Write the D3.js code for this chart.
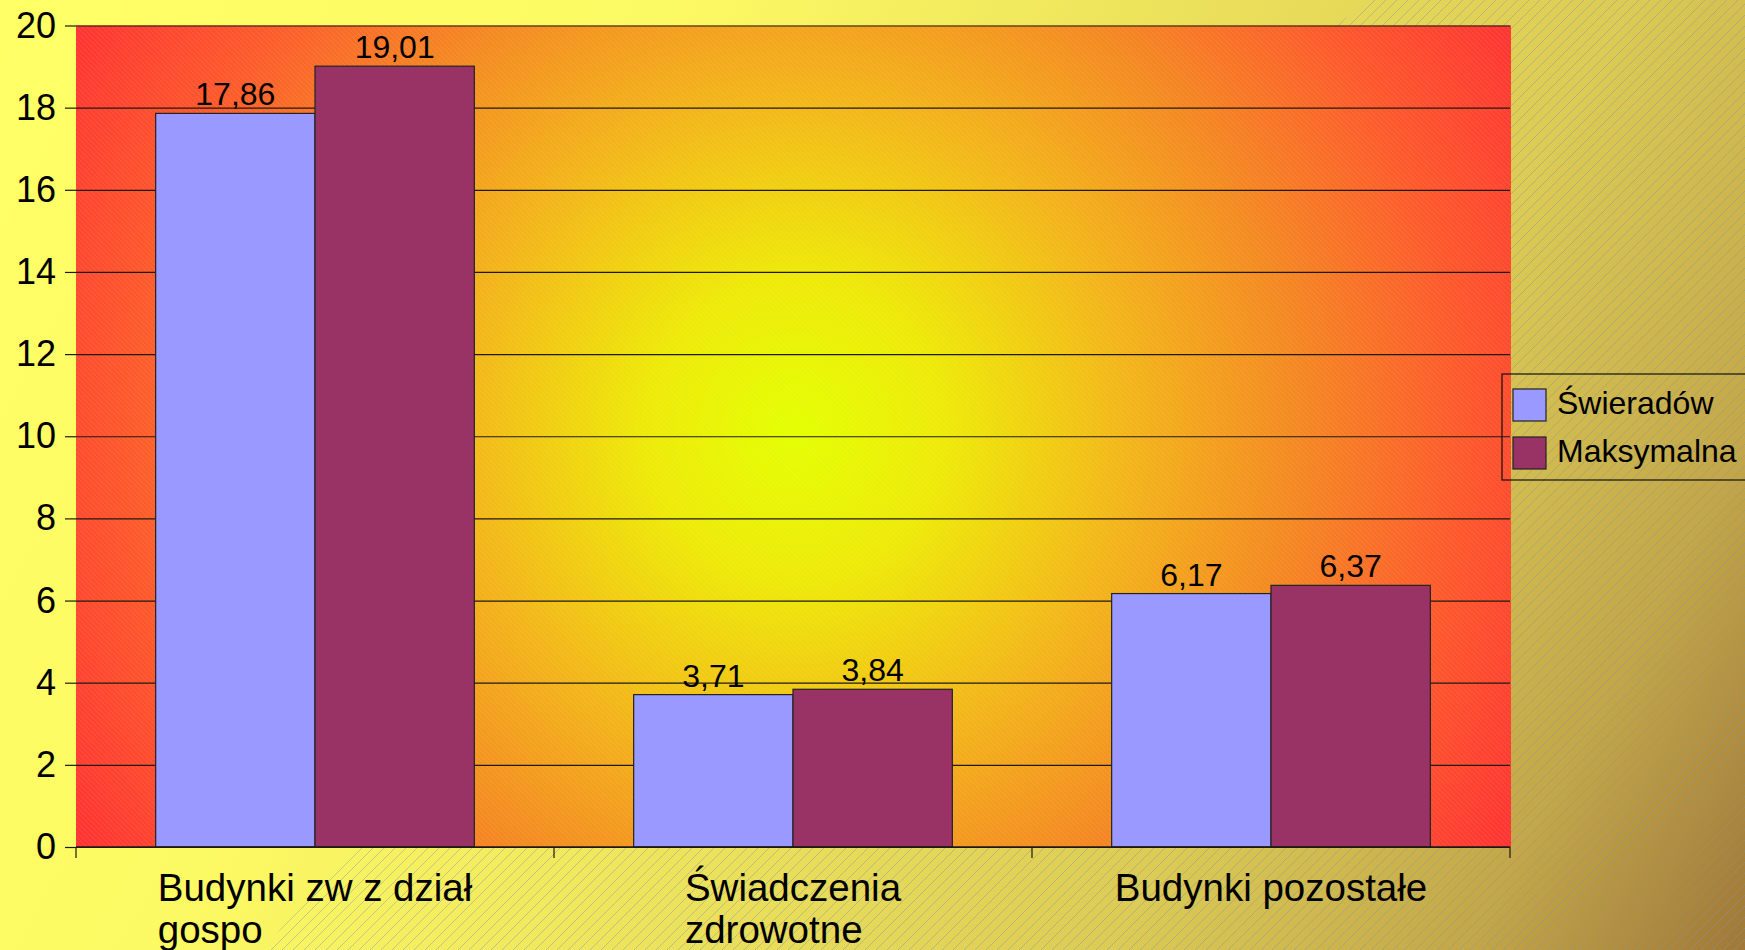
<!DOCTYPE html>
<html>
<head>
<meta charset="utf-8">
<script src="https://cdn.jsdelivr.net/npm/d3@7"></script>
<style>
  html, body { margin: 0; padding: 0; background: #ffff66; }
  svg { display: block; font-family: "Liberation Sans", Arial, sans-serif; }
</style>
</head>
<body>
<div id="chart"></div>
<script>
var categories = ["Budynki zw z dział gospo", "Świadczenia zdrowotne", "Budynki pozostałe"];
var seriesNames = ["Świeradów", "Maksymalna"];
var swieradow = [17.86, 3.71, 6.17];
var maksymalna = [19.01, 3.84, 6.37];
var yTicks = [0, 2, 4, 6, 8, 10, 12, 14, 16, 18, 20];

var W = 1745, H = 950;
var plotL = 76, plotR = 1510, plotT = 25.5, plotB = 847;

var svg = d3.select("#chart").append("svg")
  .attr("width", W)
  .attr("height", H);

var defs = svg.append("defs");

// page background: yellow going to brown in the lower right corner
var bg = defs.append("linearGradient")
  .attr("id", "bgGrad")
  .attr("gradientUnits", "userSpaceOnUse")
  .attr("x1", 0).attr("y1", 0).attr("x2", W).attr("y2", H);
[[0, "#ffff66"], [0.3, "#fcfa64"], [0.5, "#eee45c"], [0.72, "#dccb54"], [0.88, "#c3a648"], [1, "#a07838"]]
  .forEach(function(s) { bg.append("stop").attr("offset", s[0]).attr("stop-color", s[1]); });

var hatch = defs.append("pattern")
  .attr("id", "hatch")
  .attr("patternUnits", "userSpaceOnUse")
  .attr("width", 11).attr("height", 11);
hatch.append("path")
  .attr("d", "M-1,1 l2,-2 M0,11 l11,-11 M10,12 l2,-2")
  .attr("stroke", "#7f98a8")
  .attr("stroke-opacity", 0.45)
  .attr("stroke-width", 1);

// plot area: radial glow, yellow-green centre to red corners
var pg = defs.append("radialGradient")
  .attr("id", "plotGrad")
  .attr("gradientUnits", "userSpaceOnUse")
  .attr("cx", 795).attr("cy", 430).attr("r", 830);
[[0, "#e4ff00"], [0.18, "#eeea08"], [0.4, "#f3b61a"], [0.6, "#f48a22"], [0.8, "#fd5a2c"], [1, "#ff3333"]]
  .forEach(function(s) { pg.append("stop").attr("offset", s[0]).attr("stop-color", s[1]); });

var fine = defs.append("pattern")
  .attr("id", "fine")
  .attr("patternUnits", "userSpaceOnUse")
  .attr("width", 5).attr("height", 5);
fine.append("path")
  .attr("d", "M-1,-1 l7,7 M-1,4 l2,2 M4,-1 l2,2")
  .attr("stroke", "#ffffff")
  .attr("stroke-opacity", 0.09)
  .attr("stroke-width", 1);

svg.append("rect").attr("width", W).attr("height", H).attr("fill", "url(#bgGrad)");
svg.append("path")
  .attr("d", "M1370,0 L" + W + ",0 L" + W + "," + H + " L263,950 Q520,640 1370,0 Z")
  .attr("fill", "url(#hatch)");

svg.append("rect")
  .attr("x", plotL).attr("y", plotT)
  .attr("width", plotR - plotL + 1).attr("height", plotB - plotT)
  .attr("fill", "url(#plotGrad)");
svg.append("rect")
  .attr("x", plotL).attr("y", plotT)
  .attr("width", plotR - plotL + 1).attr("height", plotB - plotT)
  .attr("fill", "url(#fine)");

var x0 = d3.scaleBand()
  .domain(categories)
  .range([plotL, plotR])
  .paddingInner(0)
  .paddingOuter(0);

var x1 = d3.scaleBand()
  .domain(seriesNames)
  .range([0, x0.bandwidth()])
  .paddingInner(0)
  .paddingOuter(0.5);

var y = d3.scaleLinear()
  .domain([0, 20])
  .range([plotB, plotT]);

var color = d3.scaleOrdinal()
  .domain(seriesNames)
  .range(["#9999ff", "#993366"]);

var pl = d3.formatLocale({ decimal: ",", thousands: " ", grouping: [3], currency: ["", " zł"] });
var fmt = pl.format(".2f");

// gridlines
svg.append("g")
  .attr("transform", "translate(" + plotL + ",0)")
  .call(d3.axisLeft(y).tickValues(yTicks).tickSize(-(plotR - plotL)).tickFormat(""))
  .call(function(g) { g.select(".domain").remove(); })
  .selectAll("line")
  .attr("stroke", "#1e1a10")
  .attr("stroke-width", 1.2);

// y axis ticks + labels
var yAxis = svg.append("g")
  .attr("transform", "translate(" + plotL + ",0)")
  .call(d3.axisLeft(y).tickValues(yTicks).tickSize(11).tickPadding(9).tickFormat(d3.format("d")));
yAxis.select(".domain").remove();
yAxis.selectAll("line").attr("stroke", "#1e1a10").attr("stroke-width", 1.2);
yAxis.selectAll("text")
  .attr("fill", "#000")
  .style("font-size", "36px")
  .style("font-family", "Liberation Sans, Arial, sans-serif");

// bars
var rows = categories.map(function(c, i) {
  return { cat: c, values: [{ s: seriesNames[0], v: swieradow[i] }, { s: seriesNames[1], v: maksymalna[i] }] };
});

var groups = svg.selectAll("g.cat")
  .data(rows)
  .enter().append("g")
  .attr("class", "cat")
  .attr("transform", function(d) { return "translate(" + x0(d.cat) + ",0)"; });

groups.selectAll("rect")
  .data(function(d) { return d.values; })
  .enter().append("rect")
  .attr("x", function(d) { return x1(d.s); })
  .attr("y", function(d) { return y(d.v); })
  .attr("width", x1.bandwidth())
  .attr("height", function(d) { return y(0) - y(d.v); })
  .attr("fill", function(d) { return color(d.s); })
  .attr("stroke", "#222")
  .attr("stroke-width", 1.2);

groups.selectAll("text.val")
  .data(function(d) { return d.values; })
  .enter().append("text")
  .attr("class", "val")
  .attr("x", function(d) { return x1(d.s) + x1.bandwidth() / 2; })
  .attr("y", function(d) { return y(d.v) - 8; })
  .attr("text-anchor", "middle")
  .style("font-size", "32px")
  .text(function(d) { return fmt(d.v); });

// x axis line + boundary ticks
svg.append("line")
  .attr("x1", plotL).attr("x2", plotR)
  .attr("y1", y(0)).attr("y2", y(0))
  .attr("stroke", "#1e1a10").attr("stroke-width", 1.4);

svg.selectAll("line.xt")
  .data(categories.map(function(c) { return x0(c); }).concat([plotR]))
  .enter().append("line")
  .attr("class", "xt")
  .attr("x1", function(d) { return d; }).attr("x2", function(d) { return d; })
  .attr("y1", y(0)).attr("y2", y(0) + 11)
  .attr("stroke", "#1e1a10").attr("stroke-width", 1.2);

// category labels: wrapped, block centred, lines left aligned
categories.forEach(function(c) {
  var t = svg.append("text").style("font-size", "38.5px");
  var words = c.split(" "), lines = [], line = [];
  var probe = t.append("tspan");
  words.forEach(function(w) {
    line.push(w);
    probe.text(line.join(" "));
    if (probe.node().getComputedTextLength() > 350 && line.length > 1) {
      line.pop();
      lines.push(line.join(" "));
      line = [w];
    }
  });
  lines.push(line.join(" "));
  probe.remove();
  var maxW = 0;
  var spans = lines.map(function(l, i) {
    var s = t.append("tspan").attr("y", 901 + i * 42).text(l);
    maxW = Math.max(maxW, s.node().getComputedTextLength());
    return s;
  });
  var cx = x0(c) + x0.bandwidth() / 2;
  spans.forEach(function(s) { s.attr("x", cx - maxW / 2); });
});

// legend
var lg = svg.append("g");
lg.append("rect")
  .attr("x", 1502).attr("y", 374)
  .attr("width", 260).attr("height", 106)
  .attr("fill", "none")
  .attr("stroke", "#111").attr("stroke-width", 1.2);

var items = lg.selectAll("g.item")
  .data(seriesNames)
  .enter().append("g")
  .attr("class", "item")
  .attr("transform", function(d, i) { return "translate(1513," + (389 + i * 48) + ")"; });

items.append("rect")
  .attr("width", 33).attr("height", 32)
  .attr("fill", function(d) { return color(d); })
  .attr("stroke", "#222").attr("stroke-width", 1.2);

items.append("text")
  .attr("x", 44).attr("y", 25)
  .style("font-size", "32px")
  .text(function(d) { return d; });
</script>
</body>
</html>
